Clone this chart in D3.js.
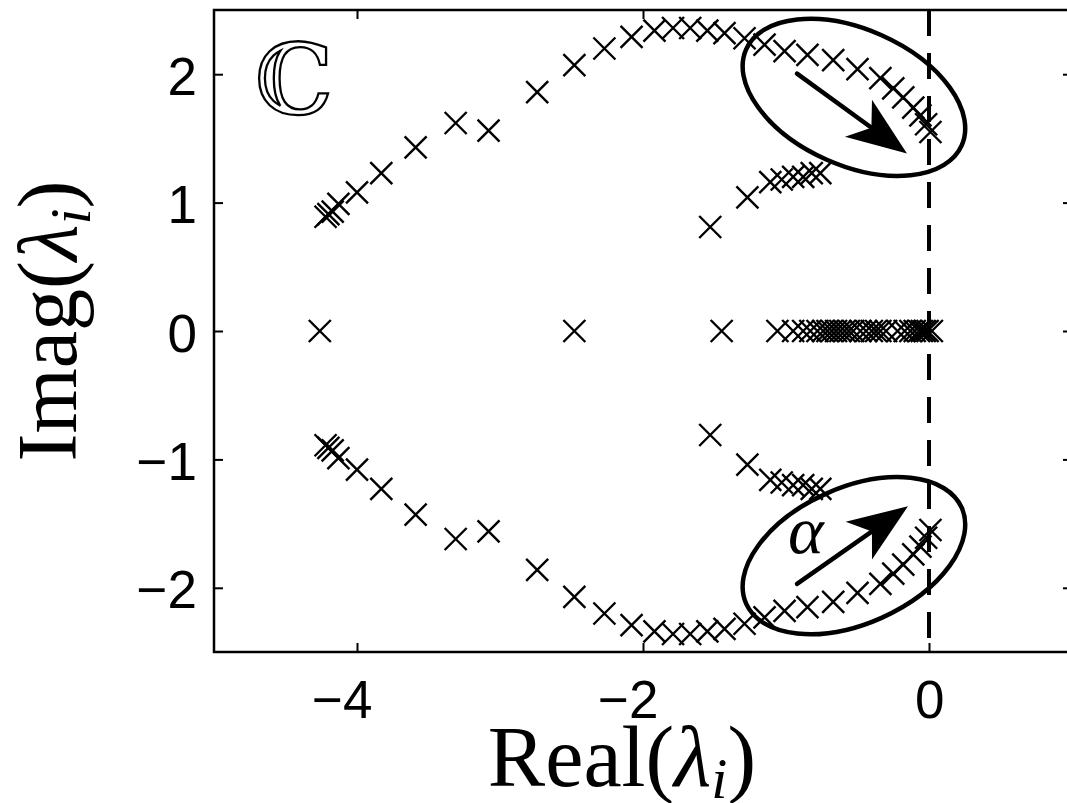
<!DOCTYPE html>
<html>
<head>
<meta charset="utf-8">
<script src="https://cdn.jsdelivr.net/npm/d3@7"></script>
<style>
  body { margin: 0; background: #fff; }
  svg { display: block; }
</style>
</head>
<body>
<div id="chart"></div>
<script>
// eigenvalues, [real, imag]
const outerUpper = [
  [-4.22, 0.89], [-4.20, 0.91], [-4.17, 0.93], [-4.13, 0.99], [-4.00, 1.08],
  [-3.83, 1.23], [-3.59, 1.43], [-3.31, 1.62], [-3.08, 1.56], [-2.74, 1.86],
  [-2.48, 2.07], [-2.27, 2.20], [-2.08, 2.29], [-1.92, 2.34], [-1.79, 2.36],
  [-1.67, 2.36], [-1.55, 2.34], [-1.43, 2.32], [-1.29, 2.28], [-1.15, 2.23],
  [-1.01, 2.18], [-0.85, 2.15], [-0.67, 2.11], [-0.50, 2.04], [-0.34, 1.97],
  [-0.25, 1.89], [-0.18, 1.82], [-0.11, 1.74], [-0.06, 1.68], [-0.02, 1.61],
  [0.01, 1.55]
];
const outerLower = [
  [-4.22, -0.89], [-4.20, -0.91], [-4.17, -0.93], [-4.13, -0.99], [-4.00, -1.08],
  [-3.83, -1.23], [-3.59, -1.43], [-3.31, -1.62], [-3.08, -1.56], [-2.74, -1.86],
  [-2.48, -2.07], [-2.27, -2.20], [-2.08, -2.29], [-1.92, -2.34], [-1.79, -2.36],
  [-1.67, -2.36], [-1.55, -2.34], [-1.43, -2.32], [-1.29, -2.28], [-1.15, -2.23],
  [-1.01, -2.18], [-0.85, -2.15], [-0.67, -2.11], [-0.50, -2.04], [-0.34, -1.97],
  [-0.25, -1.89], [-0.18, -1.82], [-0.11, -1.74], [-0.06, -1.68], [-0.02, -1.61],
  [0.01, -1.55]
];
const innerUpper = [
  [-1.53, 0.81], [-1.27, 1.04], [-1.11, 1.16], [-1.03, 1.18], [-0.95, 1.20],
  [-0.88, 1.20], [-0.82, 1.23], [-0.76, 1.23]
];
const innerLower = [
  [-1.53, -0.81], [-1.27, -1.04], [-1.11, -1.16], [-1.03, -1.18], [-0.95, -1.20],
  [-0.88, -1.20], [-0.82, -1.23], [-0.76, -1.23]
];
const realAxis = [
  -4.26, -2.48, -1.45, -1.06, -0.95, -0.88, -0.83, -0.78, -0.74, -0.71, -0.68,
  -0.65, -0.62, -0.59, -0.56, -0.53, -0.48, -0.44, -0.40, -0.37, -0.34, -0.30,
  -0.22, -0.17, -0.13, -0.10, -0.07, -0.05, -0.03, -0.01, 0.02
];
const xTicks = [-4, -2, 0];
const yTicks = [-2, -1, 0, 1, 2];

const width = 1067, height = 803;

let svg = d3.select("#chart")
  .append("svg")
  .attr("width", width)
  .attr("height", height);

let x = d3.scaleLinear().domain([-5, 1]).range([214, 1072]);
let y = d3.scaleLinear().domain([-2.5, 2.5]).range([652, 10]);

const fmt = d => d < 0 ? "\u2212" + Math.abs(d) : String(d);

// axes with inward ticks (box on all four sides)
let xAxis = svg.append("g")
  .attr("transform", `translate(0, ${y(-2.5)})`)
  .call(d3.axisBottom(x).tickValues(xTicks).tickSizeInner(-9).tickSizeOuter(0).tickFormat(fmt));
let xAxisTop = svg.append("g")
  .attr("transform", `translate(0, ${y(2.5)})`)
  .call(d3.axisTop(x).tickValues(xTicks).tickSizeInner(-9).tickSizeOuter(0).tickFormat(""));
let yAxis = svg.append("g")
  .attr("transform", `translate(${x(-5)}, 0)`)
  .call(d3.axisLeft(y).tickValues(yTicks).tickSizeInner(-9).tickSizeOuter(0).tickFormat(fmt));
let yAxisRight = svg.append("g")
  .attr("transform", `translate(${x(1)}, 0)`)
  .call(d3.axisRight(y).tickValues(yTicks).tickSizeInner(-9).tickSizeOuter(0).tickFormat(""));

svg.selectAll(".domain").remove();
svg.selectAll(".tick line").attr("stroke", "#000").attr("stroke-width", 2);

xAxis.selectAll("text")
  .attr("font-family", "Liberation Sans, Arial, sans-serif")
  .attr("font-size", 53)
  .attr("fill", "#000")
  .attr("text-anchor", "end")
  .attr("x", 15)
  .attr("y", 66)
  .attr("dy", null);

yAxis.selectAll("text")
  .attr("font-family", "Liberation Sans, Arial, sans-serif")
  .attr("font-size", 53)
  .attr("fill", "#000")
  .attr("text-anchor", "end")
  .attr("x", -17)
  .attr("dy", null)
  .attr("y", 20);

// frame
svg.append("rect")
  .attr("x", x(-5))
  .attr("y", y(2.5))
  .attr("width", x(1) - x(-5))
  .attr("height", y(-2.5) - y(2.5))
  .attr("fill", "none")
  .attr("stroke", "#000")
  .attr("stroke-width", 2.5);

// dashed line at Re = 0
svg.append("line")
  .attr("x1", x(0)).attr("x2", x(0))
  .attr("y1", y(2.5)).attr("y2", y(-2.5))
  .attr("stroke", "#000")
  .attr("stroke-width", 4)
  .attr("stroke-dasharray", "26,17");

// x markers
const m = 11;
const cross = `M${-m},${-m}L${m},${m}M${-m},${m}L${m},${-m}`;
let pts = outerUpper.concat(outerLower, innerUpper, innerLower, realAxis.map(r => [r, 0]));

svg.append("g")
  .selectAll("path")
  .data(pts)
  .join("path")
  .attr("d", cross)
  .attr("transform", d => `translate(${x(d[0])}, ${y(d[1])})`)
  .attr("fill", "none")
  .attr("stroke", "#000")
  .attr("stroke-width", 2.4);

// annotations: ellipses and arrows
const ellipses = [
  { cx: -0.525, cy: 1.82, angle: 24 },
  { cx: -0.525, cy: -1.75, angle: -24 }
];
svg.append("g")
  .selectAll("ellipse")
  .data(ellipses)
  .join("ellipse")
  .attr("cx", 0).attr("cy", 0)
  .attr("rx", 118).attr("ry", 68)
  .attr("transform", d => `translate(${x(d.cx)}, ${y(d.cy)}) rotate(${d.angle})`)
  .attr("fill", "none")
  .attr("stroke", "#000")
  .attr("stroke-width", 4.5);

const arrows = [
  { from: [-0.923, 2.005], to: [-0.154, 1.382] },
  { from: [-0.923, -1.97], to: [-0.147, -1.365] }
];
arrows.forEach(function (a) {
  let sx = x(a.from[0]), sy = y(a.from[1]);
  let tx = x(a.to[0]), ty = y(a.to[1]);
  let len = Math.hypot(tx - sx, ty - sy);
  let ux = (tx - sx) / len, uy = (ty - sy) / len;
  let nx = -uy, ny = ux;
  let headLen = 60, headW = 23, notch = 44;
  let bx = tx - ux * notch, by = ty - uy * notch;
  svg.append("line")
    .attr("x1", sx).attr("y1", sy)
    .attr("x2", bx + ux * 4).attr("y2", by + uy * 4)
    .attr("stroke", "#000")
    .attr("stroke-width", 4.5)
    .attr("stroke-linecap", "round");
  let w1 = [tx - ux * headLen + nx * headW, ty - uy * headLen + ny * headW];
  let w2 = [tx - ux * headLen - nx * headW, ty - uy * headLen - ny * headW];
  svg.append("path")
    .attr("d", `M${tx},${ty}L${w1[0]},${w1[1]}L${bx},${by}L${w2[0]},${w2[1]}Z`)
    .attr("fill", "#000");
});

// alpha label
svg.append("text")
  .attr("x", 788)
  .attr("y", 553)
  .attr("font-family", "Liberation Serif, Times New Roman, serif")
  .attr("font-style", "italic")
  .attr("font-size", 68)
  .text("α");

// complex-plane symbol, drawn as an outline to look open-faced
svg.append("text")
  .attr("x", 255)
  .attr("y", 114)
  .attr("font-family", "DejaVu Serif, serif")
  .attr("font-size", 98)
  .attr("fill", "#fff")
  .attr("stroke", "#000")
  .attr("stroke-width", 2.3)
  .text("ℂ");

// axis titles
let xt = svg.append("text")
  .attr("x", 622)
  .attr("y", 786)
  .attr("text-anchor", "middle")
  .attr("font-family", "Liberation Serif, Times New Roman, serif")
  .attr("font-size", 86);
xt.append("tspan").text("Real(");
xt.append("tspan").attr("font-style", "italic").text("λ");
xt.append("tspan").attr("font-style", "italic").attr("font-size", 58).attr("dy", 12).text("i");
xt.append("tspan").attr("dy", -12).text(")");

let yt = svg.append("text")
  .attr("transform", "translate(76, 321) rotate(-90)")
  .attr("text-anchor", "middle")
  .attr("font-family", "Liberation Serif, Times New Roman, serif")
  .attr("font-size", 84);
yt.append("tspan").text("Imag(");
yt.append("tspan").attr("font-style", "italic").text("λ");
yt.append("tspan").attr("font-style", "italic").attr("font-size", 58).attr("dy", 14).text("i");
yt.append("tspan").attr("dy", -14).text(")");
</script>
</body>
</html>
